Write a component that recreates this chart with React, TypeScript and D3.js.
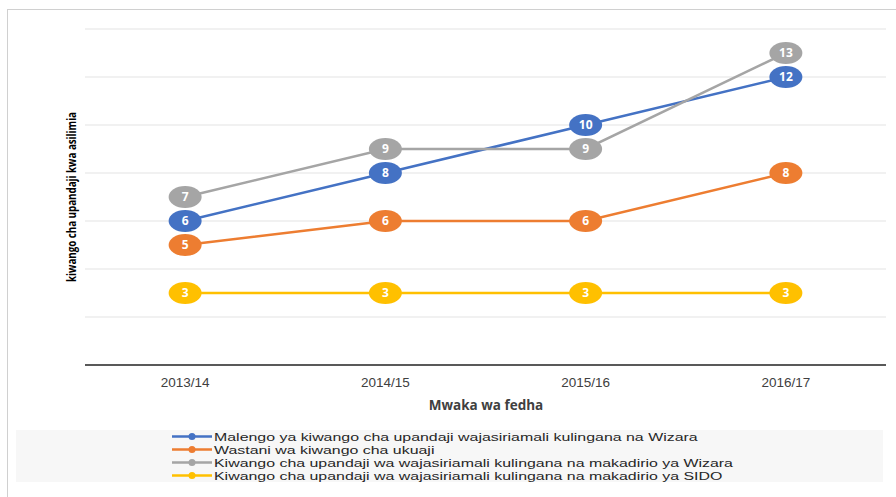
import { useEffect, useRef } from "react";
import * as d3 from "d3";

const categories = ["2013/14", "2014/15", "2015/16", "2016/17"];
const malengo = [6, 8, 10, 12];
const wastani = [5, 6, 6, 8];
const kiwangoWizara = [7, 9, 9, 13];
const kiwangoSido = [3, 3, 3, 3];
const yTicks = [0, 2, 4, 6, 8, 10, 12, 14];

const seriesNames = [
  "Malengo ya kiwango cha upandaji wajasiriamali kulingana na Wizara",
  "Wastani wa kiwango cha ukuaji",
  "Kiwango cha upandaji wa wajasiriamali kulingana na makadirio ya Wizara",
  "Kiwango cha upandaji wa wajasiriamali kulingana na makadirio ya SIDO",
];
const seriesColors = ["#4472C4", "#ED7D31", "#A5A5A5", "#FFC000"];

export default function App() {
  const ref = useRef<SVGSVGElement>(null);

  useEffect(() => {
    document.body.style.margin = "0";
    if (!ref.current) return;
    const svg = d3.select(ref.current);
    svg.selectAll("*").remove();

    const W = 896;
    const H = 497;
    const plot = { left: 85, right: 886, top: 29, bottom: 365 };

    // outer frame
    svg
      .append("rect")
      .attr("x", 7.5)
      .attr("y", 9.5)
      .attr("width", W)
      .attr("height", H)
      .attr("fill", "#fff")
      .attr("stroke", "#d0d0d0");

    const x = d3
      .scalePoint<string>()
      .domain(categories)
      .range([plot.left, plot.right])
      .padding(0.5);
    const y = d3.scaleLinear().domain([0, 14]).range([plot.bottom, plot.top]);

    // grid
    svg
      .append("g")
      .selectAll("line")
      .data(yTicks.filter((t) => t > 0))
      .enter()
      .append("line")
      .attr("x1", plot.left)
      .attr("x2", plot.right)
      .attr("y1", (d) => y(d))
      .attr("y2", (d) => y(d))
      .attr("stroke", "#e3e3e3")
      .attr("stroke-width", 1);

    // x axis line
    svg
      .append("line")
      .attr("x1", plot.left)
      .attr("x2", plot.right)
      .attr("y1", y(0))
      .attr("y2", y(0))
      .attr("stroke", "#595959")
      .attr("stroke-width", 2);

    // tick labels
    svg
      .append("g")
      .selectAll("text")
      .data(categories)
      .enter()
      .append("text")
      .attr("x", (d) => x(d)!)
      .attr("y", y(0) + 22)
      .attr("text-anchor", "middle")
      .attr("font-family", "Liberation Sans, Arial, sans-serif")
      .attr("font-size", 13.5)
      .attr("fill", "#404040")
      .text((d) => d);

    // axis titles
    svg
      .append("text")
      .attr("x", 486)
      .attr("y", 410)
      .attr("text-anchor", "middle")
      .attr("font-family", "Open Sans, sans-serif")
      .attr("font-weight", "bold")
      .attr("font-size", 13.5)
      .attr("fill", "#404040")
      .text("Mwaka wa fedha");

    svg
      .append("text")
      .attr("transform", `translate(76,197) rotate(-90)`)
      .attr("text-anchor", "middle")
      .attr("font-family", "Open Sans, sans-serif")
      .attr("font-weight", "bold")
      .attr("font-size", 12.5)
      .attr("textLength", 170)
      .attr("lengthAdjust", "spacingAndGlyphs")
      .attr("fill", "#000")
      .text("kiwango cha upandaji kwa asilimia");

    const allSeries = [malengo, wastani, kiwangoWizara, kiwangoSido];

    const line = d3
      .line<number>()
      .x((_, i) => x(categories[i])!)
      .y((d) => y(d));

    allSeries.forEach((vals, si) => {
      const g = svg.append("g");
      g.append("path")
        .datum(vals)
        .attr("fill", "none")
        .attr("stroke", seriesColors[si])
        .attr("stroke-width", 2.5)
        .attr("d", line);

      const pts = g
        .selectAll("g.pt")
        .data(vals)
        .enter()
        .append("g")
        .attr("transform", (d, i) => `translate(${x(categories[i])},${y(d)})`);
      pts
        .append("ellipse")
        .attr("rx", 16.5)
        .attr("ry", 11)
        .attr("fill", seriesColors[si]);
      pts
        .append("text")
        .attr("text-anchor", "middle")
        .attr("dy", "0.36em")
        .attr("font-family", "Open Sans, sans-serif")
        .attr("font-weight", "bold")
        .attr("font-size", 12)
        .attr("fill", "#fff")
        .text((d) => d);
    });

    // legend
    const lg = svg.append("g");
    lg.append("rect")
      .attr("x", 16)
      .attr("y", 430)
      .attr("width", 867)
      .attr("height", 52)
      .attr("fill", "#f7f7f7");

    const rowY = d3.scaleLinear().domain([0, 3]).range([436.5, 475.5]);
    const texts = lg.append("g").attr("transform", "translate(214,0)");
    seriesNames.forEach((name, i) => {
      const ry = rowY(i);
      lg.append("line")
        .attr("x1", 172)
        .attr("x2", 212)
        .attr("y1", ry)
        .attr("y2", ry)
        .attr("stroke", seriesColors[i])
        .attr("stroke-width", 2.5);
      lg.append("circle")
        .attr("cx", 192)
        .attr("cy", ry)
        .attr("r", 3.5)
        .attr("fill", seriesColors[i]);
      texts
        .append("text")
        .attr("x", 0)
        .attr("y", ry)
        .attr("dy", "0.35em")
        .attr("font-family", "Liberation Sans, Arial, sans-serif")
        .attr("font-size", 11.5)
        .attr("fill", "#262626")
        .text(name);
    });
    // stretch legend text horizontally to the reference width
    const first = texts.select<SVGTextElement>("text").node();
    if (first) {
      const k = 484 / first.getComputedTextLength();
      texts.attr("transform", `translate(214,0) scale(${k},1)`);
    }
  }, []);

  return <svg ref={ref} width={896} height={497} style={{ display: "block" }}></svg>;
}
